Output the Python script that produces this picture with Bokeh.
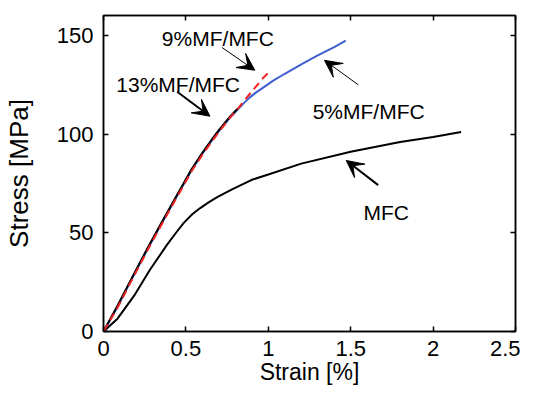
from bokeh.plotting import figure
from bokeh.models import Range1d, LinearAxis, FixedTicker, Arrow, VeeHead, Label
from bokeh.embed import file_html
from bokeh.resources import INLINE

# ---- data ----
strain_mfc = [0, 0.085, 0.185, 0.28, 0.386, 0.44, 0.487, 0.54, 0.587, 0.64, 0.69, 0.78, 0.9, 1.0,
              1.2, 1.5, 1.8, 2.0, 2.17]
stress_mfc = [0, 6.5, 18, 31, 44, 50, 55, 59.5, 62.5, 65.5, 68, 72, 76.8, 79.5,
              85, 91, 96, 98.5, 101]

strain_5 = [0, 0.085, 0.165, 0.266, 0.345, 0.435, 0.537, 0.6, 0.66, 0.7, 0.735, 0.77, 0.81, 0.85,
            0.885, 0.92, 0.96, 1.03, 1.1, 1.2, 1.3, 1.4, 1.47]
stress_5 = [0, 12.5, 25.5, 41.5, 53.5, 67, 82, 90, 97, 101.5, 105, 108.5, 112, 115.5,
            118.3, 120.7, 123, 127, 130.5, 135.3, 139.8, 144, 147.3]

strain_9 = [0, 0.085, 0.165, 0.266, 0.345, 0.435, 0.537, 0.6, 0.66, 0.7, 0.735, 0.77, 0.81, 0.85,
            0.89, 0.93, 0.97, 1.0]
stress_9 = [0, 12, 25, 41, 53, 66.5, 81.5, 89.5, 96.5, 101, 104.8, 108.5, 112.3, 116.5,
            120.5, 124.5, 128.5, 131]

strain_13 = [0, 0.085, 0.165, 0.266, 0.345, 0.435, 0.537, 0.6, 0.66, 0.7, 0.735, 0.77, 0.815]
stress_13 = [0, 13, 26, 42, 54, 67.5, 82.5, 90.5, 97.5, 102, 105.5, 109, 113]

x_ticks = [0, 0.5, 1, 1.5, 2, 2.5]
x_tick_labels = ["0", "0.5", "1", "1.5", "2", "2.5"]
y_ticks = [0, 50, 100, 150]
y_tick_labels = ["0", "50", "100", "150"]

FONT = "Liberation Sans"

p = figure(width=520, height=387, output_backend="svg", toolbar_location=None,
           x_range=Range1d(0, 2.5), y_range=Range1d(0, 160),
           min_border_left=101, min_border_right=5, min_border_top=15, min_border_bottom=55)
p.grid.visible = False
p.outline_line_color = "black"
p.outline_line_width = 1.5
p.background_fill_color = "white"
p.border_fill_color = "white"

for ax, ticks, labels in ((p.xaxis[0], x_ticks, x_tick_labels), (p.yaxis[0], y_ticks, y_tick_labels)):
    ax.ticker = FixedTicker(ticks=ticks)
    ax.major_label_overrides = {t: l for t, l in zip(ticks, labels)}
    ax.minor_tick_line_color = None
    ax.major_tick_in = 5
    ax.major_tick_out = 0
    ax.axis_line_width = 1.5
    ax.major_tick_line_width = 1.5
    ax.major_label_text_font = FONT
    ax.major_label_text_font_size = "22px"
    ax.major_label_text_color = "black"
    ax.axis_label_text_font = FONT
    ax.axis_label_text_font_style = "normal"
    ax.axis_label_text_color = "black"

p.xaxis[0].axis_label = "Strain [%]"
p.xaxis[0].axis_label_text_font_size = "23px"
p.xaxis[0].major_label_standoff = 9
p.xaxis[0].axis_label_standoff = 0
p.yaxis[0].axis_label = "Stress [MPa]"
p.yaxis[0].axis_label_text_font_size = "26px"
p.yaxis[0].major_label_standoff = 10
p.yaxis[0].axis_label_standoff = 20

# box ticks on top and right (no labels)
top = LinearAxis(ticker=FixedTicker(ticks=x_ticks))
right = LinearAxis(ticker=FixedTicker(ticks=y_ticks))
for ax in (top, right):
    ax.major_label_text_color = None
    ax.major_label_text_font_size = "1px"
    ax.major_label_standoff = 0
    ax.minor_tick_line_color = None
    ax.major_tick_in = 5
    ax.major_tick_out = 0
    ax.axis_line_width = 1.5
    ax.major_tick_line_width = 1.5
p.add_layout(top, "above")
p.add_layout(right, "right")

# curves
p.line(strain_mfc, stress_mfc, line_color="black", line_width=2)
p.line(strain_5, stress_5, line_color="#3f5fcf", line_width=2)
p.line(strain_13, stress_13, line_color="black", line_width=2)
p.line(strain_9, stress_9, line_color="#ee2222", line_width=2, line_dash="8 5")

# annotations
ann = [
    ("9%MF/MFC", 0.694, 148.3, 0.719, 143.8, 0.918, 132.3, 1),
    ("13%MF/MFC", 0.453, 124.9, 0.447, 121.4, 0.646, 109.0, 2),
    ("5%MF/MFC", 1.609, 111.4, 1.546, 124.9, 1.341, 137.3, 1),
    ("MFC", 1.715, 60.2, 1.667, 74.1, 1.473, 86.6, 2),
]
for txt, tx, ty, x0, y0, x1, y1, lw in ann:
    p.add_layout(Label(x=tx, y=ty, text=txt, text_font=FONT, text_font_size="21px",
                       text_align="center", text_baseline="alphabetic", text_color="black"))
    p.add_layout(Arrow(x_start=x0, y_start=y0, x_end=x1, y_end=y1, line_width=lw,
                       line_color="black",
                       end=VeeHead(size=17, fill_color="black", line_color="black", line_width=1)))

open("out.html", "w").write(file_html(p, INLINE))
